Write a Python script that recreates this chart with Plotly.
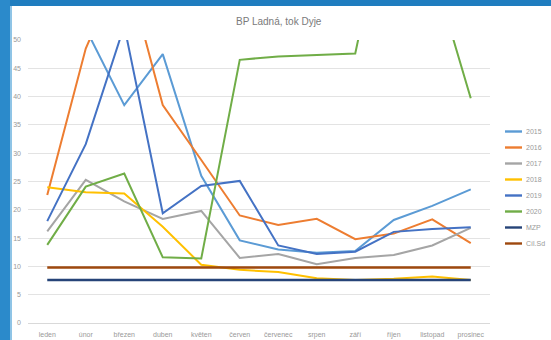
import plotly.graph_objects as go

# Monthly values for the Ladná monitoring point on the Dyje
months = ["leden", "únor", "březen", "duben", "květen", "červen",
          "červenec", "srpen", "září", "říjen", "listopad", "prosinec"]

y2015 = [None, 52.0, 38.5, 47.5, 26.0, 14.6, 13.0, 12.4, 12.7, 18.2, 20.7, 23.6]
y2016 = [22.6, 48.5, 64.0, 38.5, 28.8, 19.0, 17.3, 18.4, 14.8, 15.8, 18.3, 14.1]
y2017 = [16.2, 25.3, 21.5, 18.4, 19.8, 11.5, 12.2, 10.4, 11.5, 12.0, 13.7, 16.8]
y2018 = [24.0, 23.1, 22.9, 17.0, 10.3, 9.4, 9.0, 7.9, 7.6, 7.8, 8.2, 7.6]
y2019 = [18.0, 31.6, 52.5, 19.4, 24.2, 25.1, 13.7, 12.2, 12.6, 16.1, 16.6, 16.9]
y2020 = [13.8, 24.1, 26.4, 11.6, 11.4, 46.5, 47.1, 47.3, 47.6, 80.0, 62.7, 39.7]
mzp = [7.6] * 12
cil = [9.8] * 12

series_names = ["2015", "2016", "2017", "2018", "2019", "2020", "MZP", "Cíl.Sd"]
series_values = [y2015, y2016, y2017, y2018, y2019, y2020, mzp, cil]
series_colors = ["#5B9BD5", "#ED7D31", "#A5A5A5", "#FFC000",
                 "#4472C4", "#70AD47", "#264478", "#9E480E"]
series_widths = [2, 2, 2, 2, 2, 2, 2.6, 2.6]

W, H = 551, 340
L, R, T, B = 28, 61, 40, 17
PW, PH = W - L - R, H - T - B


def px_x(px):
    return (px - L) / PW


def px_y(py):
    return (H - B - py) / PH


fig = go.Figure()
for name, vals, col, lw in zip(series_names, series_values, series_colors, series_widths):
    fig.add_trace(go.Scatter(
        x=months, y=vals, name=name, mode="lines",
        line=dict(color=col, width=lw), connectgaps=False, showlegend=False,
    ))

shapes = [
    # blue frame around the card
    dict(type="rect", xref="paper", yref="paper", x0=px_x(0), x1=px_x(W),
         y0=px_y(6), y1=px_y(0), fillcolor="#1f7dbf", line_width=0, layer="below"),
    dict(type="rect", xref="paper", yref="paper", x0=px_x(0), x1=px_x(10),
         y0=px_y(H), y1=px_y(0), fillcolor="#2b8acb", line_width=0, layer="below"),
    dict(type="rect", xref="paper", yref="paper", x0=px_x(10), x1=px_x(12),
         y0=px_y(H), y1=px_y(6), fillcolor="#8fc4e6", line_width=0, layer="below"),
]
annotations = [
    dict(text="BP Ladná, tok Dyje", xref="paper", yref="paper",
         x=px_x(279), y=px_y(22), showarrow=False, xanchor="center", yanchor="middle",
         font=dict(family="Liberation Sans", size=10, color="#7a7a7a")),
]

# legend drawn as a compact column on the right
for i, (name, col) in enumerate(zip(series_names, series_colors)):
    ly = 131.5 + 16 * i
    shapes.append(dict(type="line", xref="paper", yref="paper",
                       x0=px_x(505), x1=px_x(522), y0=px_y(ly), y1=px_y(ly),
                       line=dict(color=col, width=2.4)))
    annotations.append(dict(text=name, xref="paper", yref="paper",
                            x=px_x(524), y=px_y(ly), showarrow=False,
                            xanchor="left", yanchor="middle",
                            font=dict(family="Liberation Sans", size=7, color="#999999")))

fig.update_layout(
    width=W, height=H,
    margin=dict(l=L, r=R, t=T, b=B, pad=0),
    paper_bgcolor="white", plot_bgcolor="white",
    shapes=shapes, annotations=annotations,
    showlegend=False,
    xaxis=dict(type="category", range=[-0.5, 11.5], showgrid=False,
               showline=True, linecolor="#d9d9d9", linewidth=1,
               ticks="", automargin=False, fixedrange=True, ticklabelstandoff=5,
               tickfont=dict(family="Liberation Sans", size=7, color="#999999")),
    yaxis=dict(range=[0, 50], dtick=5, showgrid=True, gridcolor="#e3e3e3",
               gridwidth=1, zeroline=False, showline=False, ticks="",
               automargin=False, fixedrange=True, ticklabelstandoff=6,
               tickfont=dict(family="Liberation Sans", size=7, color="#999999")),
)

fig.write_html("out.html")
